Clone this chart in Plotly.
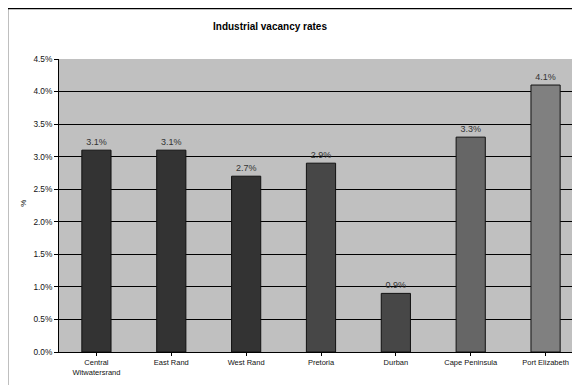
import plotly.graph_objects as go

categories = ["Central<br>Witwatersrand", "East Rand", "West Rand", "Pretoria",
              "Durban", "Cape Peninsula", "Port Elizabeth"]
vacancy_pct = [3.1, 3.1, 2.7, 2.9, 0.9, 3.3, 4.1]
bar_colors = ["#333333", "#333333", "#333333", "#474747", "#474747", "#666666", "#808080"]
y_ticks = [0.0, 0.5, 1.0, 1.5, 2.0, 2.5, 3.0, 3.5, 4.0, 4.5]

FONT = "Liberation Sans, Arial, sans-serif"
OFF = 8  # default page body margin
W, H = 580 - OFF, 385 - OFF
L, R, T = 59 - OFF, 0, 59 - OFF
B = H - (352 - OFF)
pw, ph = W - L - R, H - T - B

def px_x(x):
    return (x - OFF - L) / pw

def px_y(y):
    return (H - B - (y - OFF)) / ph

fig = go.Figure(go.Bar(
    x=list(range(len(categories))),
    y=vacancy_pct,
    width=0.39,
    marker=dict(color=bar_colors, line=dict(color="#111111", width=1)),
    text=[f"{v:.1f}%" for v in vacancy_pct],
    textposition="outside",
    cliponaxis=False,
    textfont=dict(family=FONT, size=9, color="#333333"),
))

fig.update_layout(
    width=W, height=H,
    margin=dict(l=L, r=R, t=T, b=B),
    paper_bgcolor="white",
    plot_bgcolor="#c0c0c0",
    showlegend=False,
    font=dict(family=FONT, size=9, color="#111111"),
    xaxis=dict(
        tickmode="array",
        tickvals=list(range(len(categories))),
        ticktext=categories,
        range=[-0.5, 6.5 - 3 / 74.8],
        showgrid=False,
        showline=True, linecolor="black", linewidth=1,
        ticks="outside", ticklen=3, tickcolor="black",
        tickfont=dict(size=7.5),
    ),
    yaxis=dict(
        range=[0, 4.5],
        tickvals=y_ticks,
        ticktext=[f"{v:.1f}%" for v in y_ticks],
        showgrid=True, gridcolor="black", gridwidth=1,
        zeroline=False,
        showline=True, linecolor="black", linewidth=1,
        ticks="outside", ticklen=4, tickcolor="black",
        tickfont=dict(size=8.3),
    ),
    shapes=[
        dict(type="rect", xref="paper", yref="paper",
             x0=px_x(7.5), x1=1.2, y0=px_y(8.5), y1=-0.3,
             line=dict(color="black", width=1.5), fillcolor="rgba(0,0,0,0)", layer="above"),
    ],
    annotations=[
        dict(text="<b>Industrial vacancy rates</b>", xref="paper", yref="paper",
             x=px_x(270), y=px_y(26.7), xanchor="center", yanchor="middle",
             showarrow=False, font=dict(family=FONT, size=10, color="black")),
        dict(text="%", xref="paper", yref="paper",
             x=px_x(22.7), y=px_y(203), xanchor="center", yanchor="middle",
             textangle=-90, showarrow=False, font=dict(family=FONT, size=8, color="black")),
    ],
)

fig.write_html("out.html")
